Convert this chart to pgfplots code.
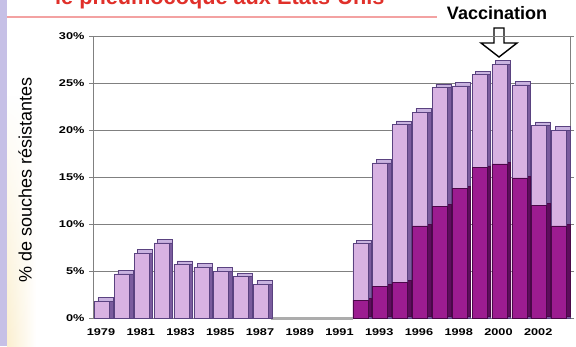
\documentclass[border=0pt]{standalone}
\usepackage{fontspec}
\setmainfont{Liberation Sans}
\newfontfamily\wide[FakeStretch=1.3]{Liberation Sans}
\usepackage{pgfplots}
\usepackage{pgfplotstable}
\pgfplotsset{compat=1.18}
\usetikzlibrary{fadings}

\definecolor{lavfront}{HTML}{D8B2E2}
\definecolor{lavtop}{HTML}{C9B3E0}
\definecolor{lavside}{HTML}{7B5C9E}
\definecolor{lavedge}{HTML}{5A4280}
\definecolor{magfront}{HTML}{9C1C90}
\definecolor{magside}{HTML}{5E0C5C}
\definecolor{magedge}{HTML}{4A0848}
\definecolor{band}{HTML}{C6C0E6}
\definecolor{cream}{HTML}{FBEFCF}
\definecolor{titlered}{HTML}{E0302A}
\definecolor{rulered}{HTML}{F3A2A2}

% share of resistant strains (all), by chart slot
\pgfplotstableread{
slot year total
0  1979 1.8
1  1980 4.7
2  1981 6.9
3  1982 8.0
4  1983 5.7
5  1984 5.4
6  1985 5.0
7  1986 4.4
8  1987 3.6
13 1992 7.9
14 1993 16.5
15 1995 20.6
16 1996 21.9
17 1997 24.5
18 1998 24.7
19 1999 25.9
20 2000 27.0
21 2001 24.8
22 2002 20.5
23 2003 20.0
}\totals

% highly resistant part
\pgfplotstableread{
slot year high
13 1992 1.9
14 1993 3.4
15 1995 3.8
16 1996 9.8
17 1997 11.9
18 1998 13.8
19 1999 16.0
20 2000 16.4
21 2001 14.9
22 2002 12.0
23 2003 9.8
}\high

\begin{document}
\begin{tikzpicture}[x=1pt,y=1pt]
\clip (0,0) rectangle (576,346);
\fill[white] (0,0) rectangle (576,346);
\shade[left color=cream, right color=white, path fading=north] (7,0) rectangle (36,250);
\fill[band] (0,0) rectangle (7,346);

% heading (cut by the top edge)
\node[anchor=base west, inner sep=0pt, text=titlered,
      font=\bfseries\fontsize{21.7}{22}\selectfont] at (55,341)
      {le pneumocoque aux Etats-Unis};
\draw[rulered, line width=2pt] (7,329) -- (437,329);

\node[font=\bfseries\fontsize{18}{18}\selectfont, inner sep=0pt] at (497,333) {Vaccination};
\draw[black, line width=1.4pt, fill=white, line join=miter]
  (494,318) -- (504,318) -- (504,303) -- (517,303) -- (499,289)
  -- (481,303) -- (494,303) -- cycle;

\node[rotate=90, font=\fontsize{18}{18}\selectfont, inner sep=0pt] at (25,166)
  {\% de souches résistantes};

\begin{axis}[
  at={(93pt,28pt)}, anchor=south west,
  scale only axis, width=477pt, height=282pt,
  xmin=-0.5, xmax=23.5, ymin=0, ymax=30,
  axis line style={gray},
  ymajorgrids, grid style={gray, line width=0.5pt},
  ytick={0,5,...,30},
  yticklabels={0\%,5\%,10\%,15\%,20\%,25\%,30\%},
  xtick={0,2,...,22},
  xticklabels={1979,1981,1983,1985,1987,1989,1991,1993,1996,1998,2000,2002},
  tick align=outside, major tick length=4pt,
  x tick style={draw=none}, y tick style={gray},
  /pgf/number format/assume math mode=true,
  ticklabel style={font=\wide\bfseries\fontsize{9.8}{10}\selectfont},
  xticklabel style={xshift=-2pt, yshift=-3pt},
  yticklabel style={xshift=-1pt},
  clip=false,
]
% floor strip where no data was collected
\fill[gray!65] ([yshift=-1.5pt]axis cs:8.45,0) rectangle ([yshift=1pt]axis cs:12.6,0);

% top faces
\addplot[ybar, bar width=15pt, bar shift=2.5pt, yshift=3.5pt,
  fill=lavtop, draw=lavedge, line width=0.5pt]
  table[x=slot, y=total] {\totals};
% side faces
\addplot[ybar, bar width=15pt, bar shift=2.5pt,
  fill=lavside, draw=lavedge, line width=0.5pt]
  table[x=slot, y=total] {\totals};
\addplot[ybar, bar width=15pt, bar shift=2.5pt, yshift=1.75pt,
  fill=magside, draw=magedge, line width=0.5pt]
  table[x=slot, y=high] {\high};
% front faces
\addplot[ybar, bar width=15pt, bar shift=-1pt,
  fill=lavfront, draw=lavedge, line width=0.5pt]
  table[x=slot, y=total] {\totals};
\addplot[ybar, bar width=15pt, bar shift=-1pt,
  fill=magfront, draw=magedge, line width=0.5pt]
  table[x=slot, y=high] {\high};
\end{axis}
\end{tikzpicture}
\end{document}
